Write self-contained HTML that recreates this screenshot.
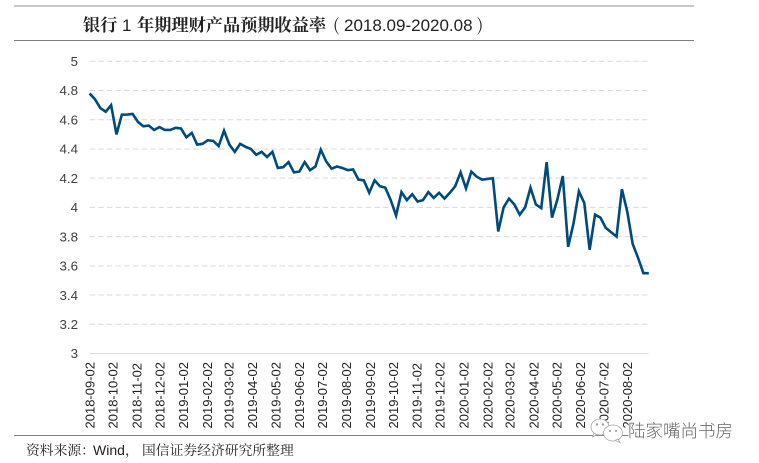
<!DOCTYPE html>
<html>
<head>
<meta charset="utf-8">
<style>
html,body{margin:0;padding:0;background:#fff;}
svg{display:block;}
</style>
</head>
<body>
<svg id="chart" xmlns="http://www.w3.org/2000/svg" width="759" height="463" viewBox="0 0 759 463">
<rect width="759" height="463" fill="#fff"/>
<line x1="14" x2="694" y1="6" y2="6" stroke="#a6a6a6" stroke-width="1.3"/>
<line x1="14" x2="694" y1="40.5" y2="40.5" stroke="#7f7f7f" stroke-width="1"/>
<line x1="14" x2="630" y1="435.5" y2="435.5" stroke="#7f7f7f" stroke-width="1"/>
<text x="83" y="31" font-size="17" fill="#222" font-family="'Liberation Sans','Noto Serif CJK SC',serif"><tspan font-size="17.2" font-family="'Noto Serif CJK SC',serif" font-weight="700">银行</tspan><tspan x="122">1</tspan><tspan x="137" font-size="17.2" font-family="'Noto Serif CJK SC',serif" font-weight="700">年期理财产品预期收益率</tspan><tspan x="333" font-family="'Noto Serif CJK SC',serif">(</tspan><tspan x="344">2018.09-2020.08</tspan><tspan x="477" font-family="'Noto Serif CJK SC',serif">)</tspan></text>
<g id="grid"></g>
<g id="ylabels"></g>
<g id="xlabels"></g>
<path id="line" fill="none" stroke="#004a7c" stroke-width="2.6" stroke-linejoin="miter"/>
<text x="26" y="455" font-size="13.8" fill="#222"><tspan font-family="'Noto Serif CJK SC',serif">资料来源：</tspan><tspan x="93" font-size="14" font-family="'Liberation Sans',sans-serif">Wind</tspan><tspan x="125" font-family="'Noto Serif CJK SC',serif">，</tspan><tspan x="142" font-family="'Noto Serif CJK SC',serif">国信证券经济研究所整理</tspan></text>
<g>
<g fill="#fff" stroke="#a8a8a8" stroke-width="0.8">
<ellipse cx="600" cy="427" rx="9" ry="8"/>
<path d="M594 433 l-1.5 4 4 -2z"/>
<ellipse cx="613" cy="433" rx="9.5" ry="8"/>
<path d="M618 439 l2 3.5 -5 -2z"/>
<circle cx="597" cy="424.5" r="0.8" fill="#777"/>
<circle cx="603" cy="424.5" r="0.8" fill="#777"/>
<circle cx="610" cy="431" r="0.7" fill="#777"/>
<circle cx="616" cy="431" r="0.7" fill="#777"/>
</g>
<text x="628" y="437" font-size="17.5" fill="#666" stroke="#fff" stroke-width="2" paint-order="stroke" font-family="'Noto Sans CJK SC',sans-serif" font-weight="300">陆家嘴尚书房</text>
</g>
</svg>
<script>
const yTicks = [5, 4.8, 4.6, 4.4, 4.2, 4, 3.8, 3.6, 3.4, 3.2, 3];
const xTickLabels = ["2018-09-02","2018-10-02","2018-11-02","2018-12-02","2019-01-02","2019-02-02","2019-03-02","2019-04-02","2019-05-02","2019-06-02","2019-07-02","2019-08-02","2019-09-02","2019-10-02","2019-11-02","2019-12-02","2020-01-02","2020-02-02","2020-03-02","2020-04-02","2020-05-02","2020-06-02","2020-07-02","2020-08-02"];
const startDate = "2018-09-02";
const weeklyYield = [4.78,4.74,4.68,4.655,4.70,4.50,4.635,4.635,4.64,4.585,4.555,4.56,4.53,4.55,4.53,4.53,4.545,4.54,4.48,4.51,4.43,4.435,4.46,4.455,4.42,4.525,4.43,4.38,4.435,4.415,4.40,4.36,4.38,4.345,4.38,4.27,4.275,4.31,4.24,4.245,4.31,4.255,4.28,4.395,4.315,4.265,4.28,4.27,4.255,4.26,4.19,4.185,4.10,4.185,4.145,4.135,4.05,3.945,4.105,4.05,4.09,4.04,4.05,4.105,4.065,4.10,4.06,4.10,4.145,4.24,4.13,4.245,4.21,4.19,4.195,4.20,3.835,4.0,4.06,4.02,3.95,4.0,4.135,4.02,3.995,4.31,3.93,4.055,4.215,3.73,3.89,4.11,4.03,3.71,3.95,3.93,3.86,3.83,3.80,4.125,3.97,3.75,3.655,3.55,3.55];

const NS = 'http://www.w3.org/2000/svg';
const plotLeft = 89.6, plotRight = 648.8, plotTop = 61.3, plotBottom = 353.5;
const yMin = 3, yMax = 5;
function yScale(v) { return plotBottom - (v - yMin) / (yMax - yMin) * (plotBottom - plotTop); }
function xIndex(i) { return plotLeft + i * (plotRight - plotLeft) / (weeklyYield.length - 1); }
function xDate(s) { return xIndex((Date.parse(s) - Date.parse(startDate)) / (7 * 864e5)); }

const grid = document.getElementById('grid');
const ylabels = document.getElementById('ylabels');
yTicks.forEach(function (t) {
  const y = yScale(t);
  const gl = document.createElementNS(NS, 'line');
  
  
  gl.setAttribute('x1', plotLeft);
  gl.setAttribute('x2', t === yMin ? plotRight : plotRight - 1.5);
  gl.setAttribute('y1', y);
  gl.setAttribute('y2', y);
  gl.setAttribute('stroke', '#d9d9d9');
  gl.setAttribute('stroke-width', '1');
  if (t !== yMin) gl.setAttribute('stroke-dasharray', '5.5 3.13');
  grid.appendChild(gl);
  const lb = document.createElementNS(NS, 'text');
  
  
  lb.setAttribute('x', 78);
  lb.setAttribute('y', y + 4.7);
  lb.setAttribute('text-anchor', 'end');
  lb.setAttribute('font-size', '13.3');
  lb.setAttribute('font-family', "'Liberation Sans',sans-serif");
  lb.setAttribute('fill', '#404040');
  lb.textContent = String(t);
  ylabels.appendChild(lb);
});

const xlabels = document.getElementById('xlabels');
xTickLabels.forEach(function (d) {
  const x = xDate(d);
  const lb = document.createElementNS(NS, 'text');
  
  
  lb.setAttribute('transform', 'translate(' + (x + 4.8) + ',428.5) rotate(-90)');
  lb.setAttribute('font-size', '13');
  lb.setAttribute('font-family', "'Liberation Sans',sans-serif");
  lb.setAttribute('fill', '#222');
  lb.textContent = d;
  xlabels.appendChild(lb);
});

document.getElementById('line').setAttribute('d', weeklyYield.map(function (v, i) {
  return (i ? 'L' : 'M') + xIndex(i).toFixed(2) + ' ' + yScale(v).toFixed(2);
}).join(''));
</script>
</body>
</html>
